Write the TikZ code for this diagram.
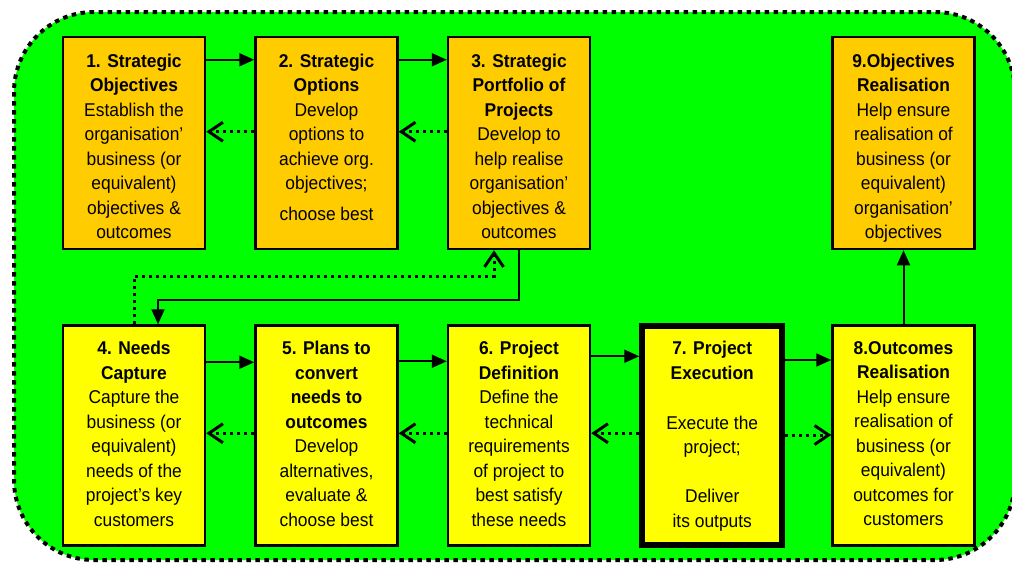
\documentclass[tikz,border=0pt]{standalone}
\usepackage{fontspec}
\setmainfont{Liberation Sans}[FakeStretch=0.94]
\usetikzlibrary{arrows.meta, positioning}

\definecolor{stageorange}{RGB}{255,204,0}
\definecolor{stageyellow}{RGB}{255,255,0}
\definecolor{loopgreen}{RGB}{0,255,0}

\begin{document}
\begin{tikzpicture}[x=1pt, y=-1pt,
    box/.style={draw, line width=2.5pt, minimum width=142pt, inner sep=0pt},
    upper/.style={box, fill=stageorange, minimum height=212pt},
    lower/.style={box, fill=stageyellow, minimum height=220pt},
    txt/.style={anchor=north, align=center, inner sep=0pt, font=\fontsize{18.5}{24.5}\selectfont},
    flow/.style={line width=2pt, -{Triangle[length=15pt, width=13pt]}},
    back/.style={line width=3pt, dash pattern=on 3pt off 4pt, -{Straight Barb[length=14pt, width=19pt]}}]

    % Page size
    \useasboundingbox (0,0) rectangle (1012,563);

    % Green background with dotted border
    \draw[line width=4pt, dash pattern=on 4.5pt off 4.5pt, fill=loopgreen, rounded corners=80pt] (14,12) rectangle (1015,560);

    % Top row: strategy stages
    \node[upper] (b1) at (134,143) {};
    \node[upper, right=48pt of b1] (b2) {};
    \node[upper, right=48pt of b2] (b3) {};

    % Bottom row: project stages
    \node[lower, below=74pt of b1] (b4) {};
    \node[lower, right=48pt of b4] (b5) {};
    \node[lower, right=48pt of b5] (b6) {};
    \node[lower, line width=6pt, minimum width=140pt, minimum height=219pt, right=48pt of b6] (b7) {};
    \node[lower, right=46pt of b7] (b8) {};

    % Realisation of objectives above stage 8
    \node[upper, above=74pt of b8] (b9) {};

    % Box texts
    \node[txt] (t1) at ([yshift=-18pt]b1.north) {\textbf{1. Strategic}\\\textbf{Objectives}\\Establish the\\organisation’\\business (or\\equivalent)\\objectives \&\\outcomes};
    \node[txt] (t2) at ([yshift=-18pt]b2.north) {\textbf{2. Strategic}\\\textbf{Options}\\Develop\\options to\\achieve org.\\objectives;\\[6pt]choose best};
    \node[txt] (t3) at ([yshift=-18pt]b3.north) {\textbf{3. Strategic}\\\textbf{Portfolio of}\\\textbf{Projects}\\Develop to\\help realise\\organisation’\\objectives \&\\outcomes};
    \node[txt] (t9) at ([yshift=-18pt]b9.north) {\textbf{9.Objectives}\\\textbf{Realisation}\\Help ensure\\realisation of\\business (or\\equivalent)\\organisation’\\objectives};
    \node[txt] (t4) at ([yshift=-17pt]b4.north) {\textbf{4. Needs}\\\textbf{Capture}\\Capture the\\business (or\\equivalent)\\needs of the\\project’s key\\customers};
    \node[txt] (t5) at ([yshift=-17pt]b5.north) {\textbf{5. Plans to}\\\textbf{convert}\\\textbf{needs to}\\\textbf{outcomes}\\Develop\\alternatives,\\evaluate \&\\choose best};
    \node[txt] (t6) at ([yshift=-17pt]b6.north) {\textbf{6. Project}\\\textbf{Definition}\\Define the\\technical\\requirements\\of project to\\best satisfy\\these needs};
    \node[txt] (t7) at ([yshift=-18pt]b7.north) {\textbf{7. Project}\\\textbf{Execution}\\[25.5pt]Execute the\\project;\\[24.5pt]Deliver\\its outputs};
    \node[txt] (t8) at ([yshift=-17pt]b8.north) {\textbf{8.Outcomes}\\\textbf{Realisation}\\Help ensure\\realisation of\\business (or\\equivalent)\\outcomes for\\customers};

    % Forward flow, top row
    \draw[flow] ([yshift=-24pt]b1.north east) -- ([yshift=-24pt]b2.north west);
    \draw[flow] ([yshift=-24pt]b2.north east) -- ([yshift=-24pt]b3.north west);

    % Feedback, top row
    \draw[back] ([yshift=-96pt]b2.north west) -- ([yshift=-96pt]b1.north east);
    \draw[back] ([yshift=-96pt]b3.north west) -- ([yshift=-96pt]b2.north east);

    % Portfolio down to needs capture, and feedback back up
    \coordinate (down) at (0,300);
    \coordinate (up) at (0,276);
    \draw[flow] (b3.south) |- ([xshift=24pt]b4.north |- down) -- ([xshift=24pt]b4.north);
    \draw[back] (b4.north) |- ([xshift=-25pt]b3.south |- up) -- ([xshift=-25pt]b3.south);

    % Forward flow, bottom row
    \draw[flow] ([yshift=-38pt]b4.north east) -- ([yshift=-38pt]b5.north west);
    \draw[flow] ([yshift=-37pt]b5.north east) -- ([yshift=-37pt]b6.north west);
    \draw[flow] ([yshift=-32pt]b6.north east) -- ([yshift=-32pt]b6.north east -| b7.west);
    \draw[flow] ([yshift=-37pt]b7.north east) -- ([yshift=-37pt]b7.north east -| b8.west);

    % Feedback, bottom row
    \draw[back] ([yshift=-109pt]b5.north west) -- ([yshift=-109pt]b4.north east);
    \draw[back] ([yshift=-109pt]b6.north west) -- ([yshift=-109pt]b5.north east);
    \draw[back] ([yshift=-109pt]b6.north east -| b7.west) -- ([yshift=-109pt]b6.north east);
    \draw[back] ([yshift=-112pt]b7.north east) -- ([yshift=-112pt]b7.north east -| b8.west);

    % Outcomes lead on to objectives
    \draw[flow] (b8.north) -- (b9.south);
\end{tikzpicture}
\end{document}
